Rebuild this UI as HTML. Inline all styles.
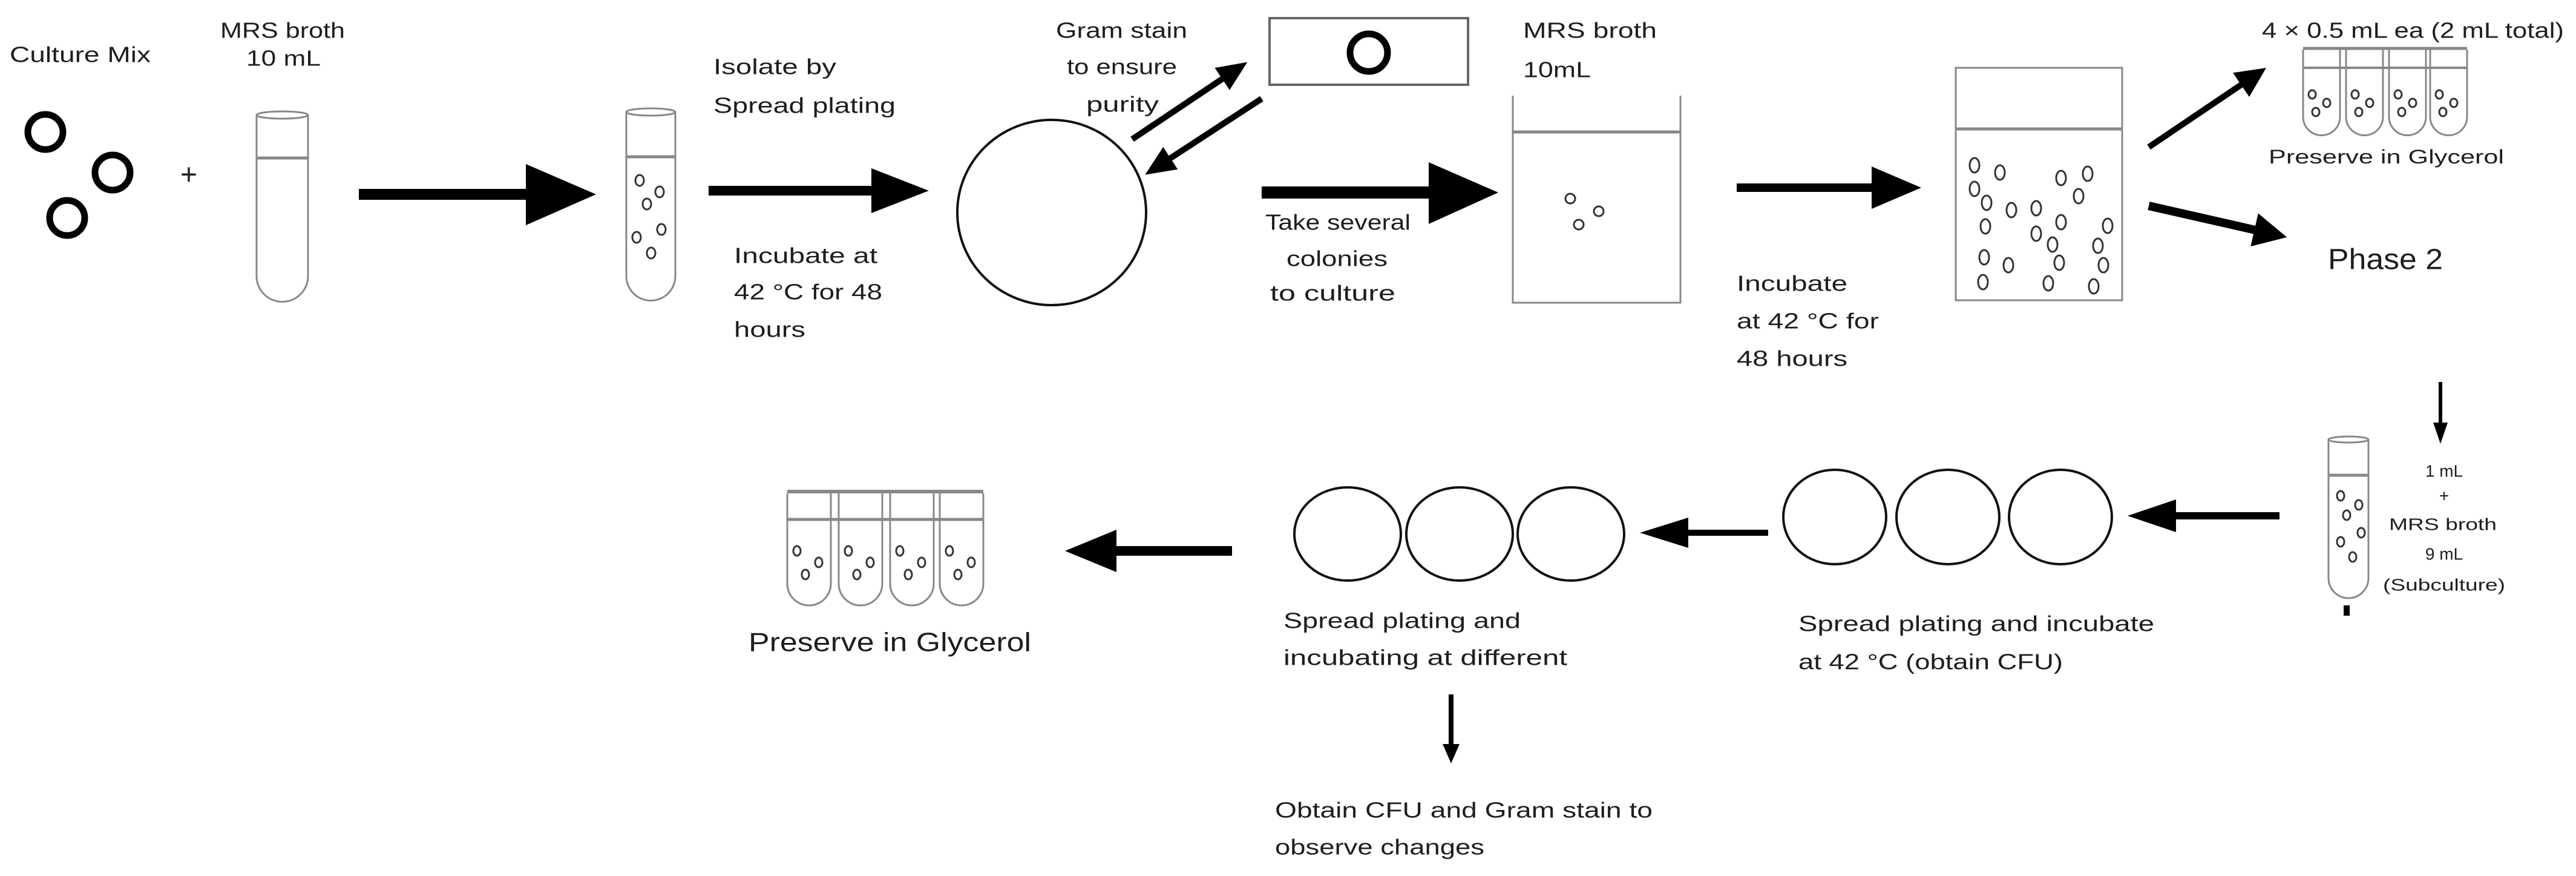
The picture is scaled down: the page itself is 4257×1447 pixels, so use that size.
<!DOCTYPE html>
<html><head><meta charset="utf-8"><style>
html,body{margin:0;padding:0;background:#fff;}
svg{display:block;}
text{font-family:"Liberation Sans",sans-serif;fill:#1e1e1e;}
</style></head><body>
<svg width="4257" height="1447" viewBox="0 0 4257 1447" xmlns="http://www.w3.org/2000/svg">
<rect width="4257" height="1447" fill="#fff"/>
<g font-size="36" dominant-baseline="central" lengthAdjust="spacingAndGlyphs">
<text x="16" y="90" textLength="233" lengthAdjust="spacingAndGlyphs">Culture Mix</text>
<text x="364" y="50" textLength="206" lengthAdjust="spacingAndGlyphs">MRS broth</text>
<text x="407" y="96" textLength="123" lengthAdjust="spacingAndGlyphs">10 mL</text>
<text x="1179" y="110" textLength="203" lengthAdjust="spacingAndGlyphs">Isolate by</text>
<text x="1179" y="174" textLength="301" lengthAdjust="spacingAndGlyphs">Spread plating</text>
<text x="1213" y="422" textLength="237" lengthAdjust="spacingAndGlyphs">Incubate at</text>
<text x="1213" y="482" textLength="245" lengthAdjust="spacingAndGlyphs">42 °C for 48</text>
<text x="1213" y="544" textLength="118" lengthAdjust="spacingAndGlyphs">hours</text>
<text x="1745" y="50" textLength="217" lengthAdjust="spacingAndGlyphs">Gram stain</text>
<text x="1763" y="110" textLength="182" lengthAdjust="spacingAndGlyphs">to ensure</text>
<text x="1795" y="172" textLength="120" lengthAdjust="spacingAndGlyphs">purity</text>
<text x="2091" y="367" textLength="240" lengthAdjust="spacingAndGlyphs">Take several</text>
<text x="2126" y="427" textLength="167" lengthAdjust="spacingAndGlyphs">colonies</text>
<text x="2099" y="484" textLength="207" lengthAdjust="spacingAndGlyphs">to culture</text>
<text x="2517" y="50" textLength="221" lengthAdjust="spacingAndGlyphs">MRS broth</text>
<text x="2517" y="115" textLength="112" lengthAdjust="spacingAndGlyphs">10mL</text>
<text x="2870" y="468" textLength="183" lengthAdjust="spacingAndGlyphs">Incubate</text>
<text x="2870" y="530" textLength="235" lengthAdjust="spacingAndGlyphs">at 42 °C for</text>
<text x="2870" y="592" textLength="183" lengthAdjust="spacingAndGlyphs">48 hours</text>
<text x="3738" y="50" textLength="499" lengthAdjust="spacingAndGlyphs">4 × 0.5 mL ea (2 mL total)</text>
<text x="3749" y="259" font-size="32" textLength="389" lengthAdjust="spacingAndGlyphs">Preserve in Glycerol</text>
<text x="3847" y="429" font-size="48" textLength="190" lengthAdjust="spacingAndGlyphs">Phase 2</text>
<g font-size="28" text-anchor="middle">
<text x="4039" y="778">1 mL</text>
<text x="4039" y="819">+</text>
<text x="4037" y="866" textLength="178" lengthAdjust="spacingAndGlyphs">MRS broth</text>
<text x="4039" y="915">9 mL</text>
<text x="4039" y="966" textLength="202" lengthAdjust="spacingAndGlyphs">(Subculture)</text>
</g>
<text x="2972" y="1030" textLength="588" lengthAdjust="spacingAndGlyphs">Spread plating and incubate</text>
<text x="2972" y="1093" textLength="437" lengthAdjust="spacingAndGlyphs">at 42 °C (obtain CFU)</text>
<text x="2121" y="1025" textLength="392" lengthAdjust="spacingAndGlyphs">Spread plating and</text>
<text x="2121" y="1086" textLength="469" lengthAdjust="spacingAndGlyphs">incubating at different</text>
<text x="2107" y="1338" textLength="624" lengthAdjust="spacingAndGlyphs">Obtain CFU and Gram stain to</text>
<text x="2107" y="1399" textLength="346" lengthAdjust="spacingAndGlyphs">observe changes</text>
<text x="1237" y="1061" font-size="44" textLength="467" lengthAdjust="spacingAndGlyphs">Preserve in Glycerol</text>
</g>
<text x="312" y="289" font-size="48" text-anchor="middle" dominant-baseline="central">+</text>

<!-- culture mix circles -->
<g fill="none" stroke="#000" stroke-width="11">
<circle cx="75" cy="218" r="29"/>
<circle cx="186" cy="285" r="29"/>
<circle cx="111" cy="360" r="29"/>
<circle cx="2262" cy="87" r="31"/>
</g>
<!-- slide box -->
<rect x="2098" y="30" width="328" height="110" fill="none" stroke="#666" stroke-width="4"/>

<!-- tubes -->
<g fill="none" stroke="#888" stroke-width="3">
<path d="M424,190 L424,456 A42,42 0 0 0 509,456 L509,190"/>
<ellipse cx="466.5" cy="190" rx="42.5" ry="6"/>
<line x1="424" y1="261" x2="509" y2="261" stroke-width="5"/>
<path d="M1035,185 L1035,456 A40.5,40.5 0 0 0 1116,456 L1116,185"/>
<ellipse cx="1075.5" cy="185" rx="40.5" ry="6"/>
<line x1="1035" y1="259" x2="1116" y2="259" stroke-width="5"/>
<path d="M3848,726 L3848,955 A33,33 0 0 0 3914,955 L3914,726"/>
<ellipse cx="3881" cy="726" rx="33" ry="5"/>
<line x1="3848" y1="785" x2="3914" y2="785" stroke-width="5"/>
<!-- small tubes top right -->
<path d="M3806,82 L3806,193 A30,30 0 0 0 3867,193 L3867,82"/>
<path d="M3877,82 L3877,193 A30,30 0 0 0 3938,193 L3938,82"/>
<path d="M3948,82 L3948,193 A30,30 0 0 0 4009,193 L4009,82"/>
<path d="M4016,82 L4016,193 A30,30 0 0 0 4077,193 L4077,82"/>
<line x1="3806" y1="80" x2="4077" y2="80" stroke-width="5"/>
<line x1="3806" y1="112" x2="4077" y2="112" stroke-width="4"/>
<!-- bottom-left tubes -->
<path d="M1301,815 L1301,964 A36,36 0 0 0 1373,964 L1373,815"/>
<path d="M1386,815 L1386,964 A36,36 0 0 0 1458,964 L1458,815"/>
<path d="M1471,815 L1471,964 A36,36 0 0 0 1543,964 L1543,815"/>
<path d="M1553,815 L1553,964 A36,36 0 0 0 1625,964 L1625,815"/>
<line x1="1301" y1="812" x2="1625" y2="812" stroke-width="6"/>
<line x1="1301" y1="858" x2="1625" y2="858" stroke-width="5"/>
<!-- beakers -->
<path d="M2500,158 L2500,500 L2777,500 L2777,158"/>
<line x1="2500" y1="218" x2="2777" y2="218" stroke-width="5"/>
<rect x="3232" y="112" width="275" height="384"/>
<line x1="3232" y1="213" x2="3507" y2="213" stroke-width="5"/>
</g>

<!-- bubbles -->
<g fill="none" stroke="#333" stroke-width="3">
<ellipse cx="1057" cy="298" rx="7" ry="9"/><ellipse cx="1090" cy="317" rx="7" ry="9"/><ellipse cx="1069" cy="337" rx="7" ry="9"/>
<ellipse cx="1093" cy="379" rx="7" ry="9"/><ellipse cx="1052" cy="392" rx="7" ry="9"/><ellipse cx="1076" cy="418" rx="7" ry="9"/>
<ellipse cx="2595" cy="328" rx="8" ry="8"/><ellipse cx="2642" cy="349" rx="8" ry="8"/><ellipse cx="2609" cy="371" rx="8" ry="8"/>
<g>
<ellipse cx="3263" cy="273" rx="8" ry="12"/><ellipse cx="3305" cy="285" rx="8" ry="12"/><ellipse cx="3406" cy="294" rx="8" ry="12"/>
<ellipse cx="3450" cy="287" rx="8" ry="12"/><ellipse cx="3263" cy="312" rx="8" ry="12"/><ellipse cx="3435" cy="324" rx="8" ry="12"/>
<ellipse cx="3283" cy="335" rx="8" ry="12"/><ellipse cx="3324" cy="347" rx="8" ry="12"/><ellipse cx="3365" cy="344" rx="8" ry="12"/>
<ellipse cx="3281" cy="374" rx="8" ry="12"/><ellipse cx="3406" cy="367" rx="8" ry="12"/><ellipse cx="3483" cy="373" rx="8" ry="12"/>
<ellipse cx="3365" cy="386" rx="8" ry="12"/><ellipse cx="3392" cy="404" rx="8" ry="12"/><ellipse cx="3467" cy="406" rx="8" ry="12"/>
<ellipse cx="3279" cy="425" rx="8" ry="12"/><ellipse cx="3319" cy="438" rx="8" ry="12"/><ellipse cx="3403" cy="434" rx="8" ry="12"/>
<ellipse cx="3476" cy="438" rx="8" ry="12"/><ellipse cx="3277" cy="466" rx="8" ry="12"/><ellipse cx="3385" cy="468" rx="8" ry="12"/>
<ellipse cx="3460" cy="473" rx="8" ry="12"/>
</g>
<ellipse cx="3868" cy="819" rx="6" ry="8"/><ellipse cx="3898" cy="834" rx="6" ry="8"/><ellipse cx="3878" cy="851" rx="6" ry="8"/>
<ellipse cx="3902" cy="880" rx="6" ry="8"/><ellipse cx="3868" cy="895" rx="6" ry="8"/><ellipse cx="3888" cy="920" rx="6" ry="8"/>
<g id="tb">
<ellipse cx="3821" cy="156" rx="6" ry="7"/><ellipse cx="3845" cy="170" rx="6" ry="7"/><ellipse cx="3827" cy="185" rx="6" ry="7"/>
</g>
<use href="#tb" x="71"/><use href="#tb" x="142"/><use href="#tb" x="210"/>
<g id="bb">
<ellipse cx="1317" cy="910" rx="6" ry="8"/><ellipse cx="1353" cy="929" rx="6" ry="8"/><ellipse cx="1331" cy="949" rx="6" ry="8"/>
</g>
<use href="#bb" x="85"/><use href="#bb" x="170"/><use href="#bb" x="252"/>
</g>

<!-- plates -->
<g fill="none" stroke="#111" stroke-width="4">
<ellipse cx="1738" cy="351" rx="156" ry="153"/>
<ellipse cx="3032" cy="854" rx="85" ry="78"/>
<ellipse cx="3219" cy="854" rx="85" ry="78"/>
<ellipse cx="3405" cy="854" rx="85" ry="78"/>
<ellipse cx="2227" cy="882" rx="88" ry="77"/>
<ellipse cx="2412" cy="882" rx="88" ry="77"/>
<ellipse cx="2596" cy="882" rx="88" ry="77"/>
</g>
<rect x="3873" y="1000" width="10" height="17" fill="#000"/>

<!-- arrows -->
<g fill="#000">
<polygon points="593,312 869,312 869,271 985,321 869,372 869,330 593,330"/>
<polygon points="1171,307 1440,307 1440,278 1535,315 1440,352 1440,323 1171,323"/>
<polygon points="2085,308 2361,308 2361,268 2476,318 2361,370 2361,328 2085,328"/>
<polygon points="2870,303 3093,303 3093,275 3175,310 3093,345 3093,317 2870,317"/>
<polygon points="3767,846 3596,846 3596,825 3516,852 3596,879 3596,858 3767,858"/>
<polygon points="2922,875 2790,875 2790,855 2710,880 2790,905 2790,885 2922,885"/>
<polygon points="2036,902 1845,902 1845,875 1760,910 1845,945 1845,918 2036,918"/>
<polygon points="4030,631 4036,631 4036,698 4045,698 4033,733 4021,698 4030,698"/>
<polygon points="2394,1147 2402,1147 2402,1229 2412,1229 2398,1261 2384,1229 2394,1229"/>
<g transform="translate(1871,230) rotate(-33.8)"><polygon points="0,-5 179,-5 179,-22 229,0 179,22 179,5 0,5"/></g>
<g transform="translate(2085,163) rotate(146.9)"><polygon points="0,-5 180,-5 180,-22 230,0 180,22 180,5 0,5"/></g>
<g transform="translate(3551,243) rotate(-34)"><polygon points="0,-5 184,-5 184,-24 234,0 184,24 184,5 0,5"/></g>
<g transform="translate(3551,340) rotate(12.8)"><polygon points="0,-7 179,-7 179,-28 234,0 179,28 179,7 0,7"/></g>
</g>
</svg>
</body></html>
